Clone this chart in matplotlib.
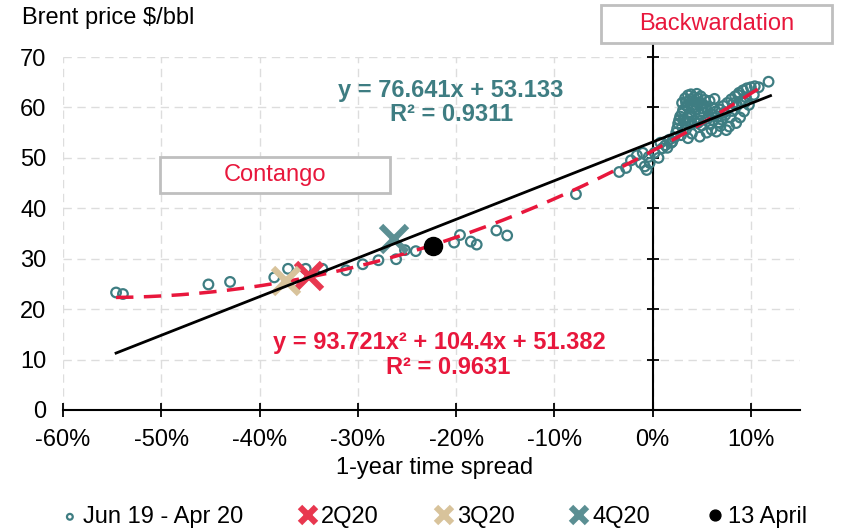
import numpy as np
import matplotlib.pyplot as plt
from matplotlib.patches import Rectangle
from matplotlib.ticker import FuncFormatter

plt.rcParams['font.family'] = ['Liberation Sans', 'DejaVu Sans']
plt.rcParams['axes.unicode_minus'] = False

# 1-year time spread (%) and Brent price ($/bbl), Jun 19 - Apr 20
spread_pct = [-54.6, -53.9, -45.2, -43.0, -38.5, -37.1, -35.3, -33.6, -31.2, -29.5,
              -27.9, -26.1, -25.2, -24.1, -20.2, -19.6, -18.5, -17.9, -15.9, -14.8,
              -7.8,
              -3.4, -2.7, -2.2, -1.6, -1.2, -0.8, -0.6, -0.4, 0.2, 0.6,
              1.0, 1.7, 1.3, 0.8, -1.0, -0.3,
              3.0, 3.3, 3.6, 3.9, 4.2, 4.5, 4.9, 5.3, 5.8, 6.3,
              3.1, 3.5, 3.8, 4.1, 4.4, 4.7, 5.0, 5.4, 2.8, 3.2,
              3.6, 4.0, 4.3, 4.8, 5.2, 2.6, 3.0, 3.4, 3.9, 4.6,
              2.4, 2.9, 3.3, 2.2, 2.0,
              5.6, 6.0, 6.4, 6.8, 7.2, 7.6, 8.0, 8.4, 8.8, 9.2,
              9.6, 10.0, 10.4, 10.8, 11.8,
              5.5, 6.0, 6.5, 6.9, 7.5, 7.8, 8.5, 8.9, 9.3, 9.8,
              7.0, 7.4, 8.1, 8.6, 9.0, 5.0, 4.8, 5.8, 6.2, 7.9,
              10.3, 9.5, 6.6, 4.0, 3.6,
              3.4, 3.7, 4.3, 4.6, 5.1, 5.6, 2.7, 3.0, 4.1, 4.9,
              6.1, 6.7, 7.3, 8.2, 8.7, 9.4, 1.5, 1.9, 2.5, 3.8]
brent = [23.3, 23.0, 24.9, 25.4, 26.3, 28.0, 28.0, 28.0, 27.7, 28.9,
         29.7, 29.9, 31.7, 31.5, 33.2, 34.7, 33.4, 32.8, 35.6, 34.6,
         42.8,
         47.2, 48.0, 49.5, 50.5, 49.0, 48.3, 47.6, 50.2, 51.0, 50.0,
         51.9, 53.6, 52.5, 53.0, 51.0, 49.0,
         60.9, 61.8, 62.4, 62.6, 62.0, 62.7, 62.2, 61.5, 61.3, 61.7,
         59.5, 60.2, 59.0, 60.5, 59.6, 60.8, 59.8, 60.1, 58.2, 57.6,
         57.9, 58.3, 57.2, 58.6, 58.9, 56.8, 56.2, 55.6, 56.6, 56.9,
         55.0, 54.5, 57.0, 54.0, 53.2,
         57.8, 58.7, 59.2, 59.6, 60.3, 60.9, 61.6, 62.2, 62.9, 63.4,
         63.8, 64.0, 64.2, 64.0, 65.1,
         55.0, 55.6, 55.2, 56.3, 55.5, 56.2, 56.9, 58.0, 59.2, 60.5,
         57.6, 58.5, 59.3, 60.4, 61.2, 56.4, 54.2, 56.8, 57.4, 58.0,
         62.5, 62.0, 58.2, 54.8, 53.9,
         61.0, 61.3, 61.1, 61.8, 60.7, 59.3, 57.5, 58.8, 59.9, 57.4,
         59.9, 57.0, 59.0, 60.8, 62.5, 61.0, 52.0, 53.0, 55.8, 57.2]

# quarterly futures points and 13 April
q_labels = ['2Q20', '3Q20', '4Q20']
q_spread_pct = [-35.0, -37.3, -26.3]
q_brent = [26.5, 25.5, 34.0]
apr13_spread_pct = -22.3
apr13_brent = 32.5

# trendline coefficients as printed on the chart
lin_a, lin_b = 76.641, 53.133
quad_a, quad_b, quad_c = 93.721, 104.4, 51.382

teal = '#3E7D82'
red = '#E8173C'
q_colors = ['#E8374F', '#D8C39B', '#5B8F93']
fs = 17

x = np.array(spread_pct) / 100
fig = plt.figure(figsize=(8.44, 5.32), dpi=100)
ax = fig.add_axes([63 / 844, 1 - 410 / 532, (800 - 63) / 844, (410 - 57) / 532])

ax.scatter(x, brent, s=48, facecolors='none', edgecolors=teal, linewidths=1.6,
           zorder=3, label='Jun 19 - Apr 20')

xs = np.linspace(x.min(), 0.107, 200)
ax.plot(xs, quad_a * xs ** 2 + quad_b * xs + quad_c, color=red, lw=2.5,
        dashes=(5, 3), zorder=4)
xl = np.array([x.min(), 0.12])
ax.plot(xl, lin_a * xl + lin_b, color='black', lw=2, zorder=5)

for lab, qx, qy, c in zip(q_labels, q_spread_pct, q_brent, q_colors):
    ax.plot(qx / 100, qy, ls='none', marker='x', ms=19, mew=4.5, color=c,
            label=lab, zorder=4)
ax.plot(apr13_spread_pct / 100, apr13_brent, ls='none', marker='o', ms=13,
        color='black', label='13 April', zorder=6)

ax.set_xlim(-0.60, 0.15)
ax.set_ylim(0, 70)
ax.set_xticks(np.arange(-0.6, 0.11, 0.1))
ax.set_yticks(np.arange(0, 71, 10))
ax.xaxis.set_major_formatter(FuncFormatter(lambda v, p: f'{round(v * 100)}%'))
ax.grid(True, color='#DDDDDD', ls=(0, (6, 4)), lw=1)
ax.set_axisbelow(True)
for s in ['top', 'right', 'left']:
    ax.spines[s].set_visible(False)
ax.spines['bottom'].set_linewidth(1.5)
ax.tick_params(axis='x', direction='inout', length=10, width=1.3, labelsize=fs, pad=9)
ax.tick_params(axis='y', length=0, labelsize=fs, pad=12)

# vertical axis at zero spread with crossing ticks
ax.axvline(0, ymin=0, ymax=72.5 / 70, color='black', lw=1.5, clip_on=False, zorder=2)
ax.plot(np.zeros(7), np.arange(10, 71, 10), ls='none', marker='_', ms=9, mew=1.3,
        color='black', clip_on=False, zorder=2)

ax.text(-0.205, 63.3, 'y = 76.641x + 53.133', color=teal, fontsize=fs,
        fontweight='bold', ha='center', va='center')
ax.text(-0.205, 58.5, 'R² = 0.9311', color=teal, fontsize=fs,
        fontweight='bold', ha='center', va='center')
ax.text(-0.217, 13.3, 'y = 93.721x² + 104.4x + 51.382', color=red, fontsize=fs,
        fontweight='bold', ha='center', va='center')
ax.text(-0.208, 8.4, 'R² = 0.9631', color=red, fontsize=fs,
        fontweight='bold', ha='center', va='center')

for (x0, y0, x1, y1), txt in [((601, 5, 832, 43), 'Backwardation'),
                              ((160, 157, 390, 193), 'Contango')]:
    fig.patches.append(Rectangle((x0 / 844, 1 - y1 / 532), (x1 - x0) / 844,
                                 (y1 - y0) / 532, transform=fig.transFigure,
                                 fill=True, facecolor='white', edgecolor='#BFBFBF',
                                 lw=2, zorder=10))
    fig.text((x0 + x1) / 2 / 844, 1 - (y0 + y1) / 2 / 532, txt, color=red,
             fontsize=fs, ha='center', va='center', zorder=11)

fig.text(22 / 844, 1 - 18 / 532, 'Brent price $/bbl', fontsize=fs, va='center')
fig.text(435 / 844, 1 - 468 / 532, '1-year time spread', fontsize=fs,
         ha='center', va='center')

fig.legend(loc='center', bbox_to_anchor=(432 / 844, 1 - 517 / 532), ncol=5,
           frameon=False, fontsize=fs, handletextpad=0.0, columnspacing=2.2,
           handlelength=1.1, markerscale=0.6, borderaxespad=0)

fig.savefig('out.png', dpi=100)
